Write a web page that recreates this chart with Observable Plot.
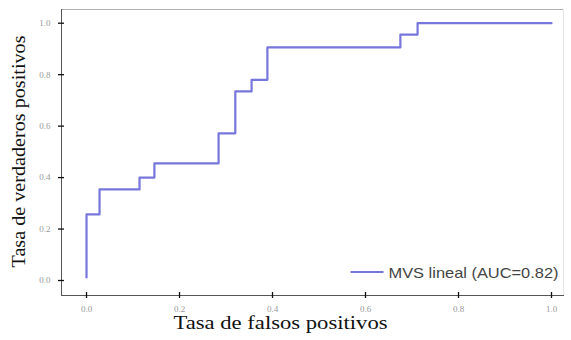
<!DOCTYPE html>
<html><head><meta charset="utf-8">
<script src="https://cdn.jsdelivr.net/npm/d3@7"></script>
<script src="https://cdn.jsdelivr.net/npm/@observablehq/plot@0.6"></script>
<style>body{margin:0;background:#fff}</style>
</head><body><div id="chart"></div>
<script>
// ROC curve corner points
const fpr = [0, 0, 0.028, 0.028, 0.114, 0.114, 0.146, 0.146, 0.284, 0.284, 0.32, 0.32, 0.355, 0.355, 0.389, 0.389, 0.675, 0.675, 0.712, 0.712, 1.0];
const tpr = [0.012, 0.257, 0.257, 0.354, 0.354, 0.40, 0.40, 0.455, 0.455, 0.572, 0.572, 0.735, 0.735, 0.78, 0.78, 0.906, 0.906, 0.956, 0.956, 1.0, 1.0];
const xTicks = [0, 0.2, 0.4, 0.6, 0.8, 1.0];
const yTicks = [0, 0.2, 0.4, 0.6, 0.8, 1.0];
const seriesName = "MVS lineal (AUC=0.82)";
const xLabel = "Tasa de falsos positivos";
const yLabel = "Tasa de verdaderos positivos";
const lineColor = "#7676dc";

const roc = fpr.map((x, i) => ({x, y: tpr[i]}));
const serif = "'Liberation Serif', 'Times New Roman', serif";

const chart = Plot.plot({
  width: 571, height: 340,
  marginLeft: 61, marginRight: 8, marginTop: 9, marginBottom: 45,
  style: {background: "#fff"},
  x: {domain: [-0.0538, 1.0258], axis: null},
  y: {domain: [-0.0583, 1.0533], axis: null},
  marks: [
    Plot.frame({anchor: "top", stroke: "#b0b0b0", strokeOpacity: 1}),
    Plot.frame({anchor: "right", stroke: "#e6e6e6", strokeOpacity: 1}),
    Plot.frame({anchor: "bottom", stroke: "#555", strokeOpacity: 1}),
    Plot.frame({anchor: "left", stroke: "#555", strokeOpacity: 1}),
    Plot.axisX(xTicks, {anchor: "bottom", tickSize: 6, dy: -3, tickPadding: 7, tickFormat: d3.format(".1f"),
      fontFamily: serif, fontSize: 9, stroke: "#111", strokeOpacity: 1, strokeWidth: 1.3, fill: "#999", label: null}),
    Plot.axisY(yTicks, {anchor: "left", tickSize: 6, dx: 3, tickPadding: 8, tickFormat: d3.format(".1f"),
      fontFamily: serif, fontSize: 9, stroke: "#111", strokeOpacity: 1, strokeWidth: 1.3, fill: "#999", label: null}),
    Plot.line(roc, {x: "x", y: "y", stroke: lineColor, strokeWidth: 2.2}),
    Plot.text([xLabel], {frameAnchor: "bottom", textAnchor: "middle", dx: -32, dy: 33.9, fontFamily: serif, fontSize: 19, fill: "#111"}),
    Plot.text([yLabel], {frameAnchor: "left", textAnchor: "middle", rotate: -90, dx: -42.1, dy: -1, fontFamily: serif, fontSize: 19, fill: "#111"}),
    Plot.text([seriesName], {frameAnchor: "bottom-right", textAnchor: "end", dx: -5, dy: -18,
      fontFamily: "'Liberation Sans', Arial, sans-serif", fontSize: 15, fill: "#444"})
  ]
});
document.getElementById("chart").appendChild(chart);

const svg = d3.select(chart.tagName.toLowerCase() === "svg" ? chart : chart.querySelector("svg"));
const fitLength = {[xLabel]: 214, [yLabel]: 232, [seriesName]: 170};
svg.selectAll("text").filter(function() { return this.textContent in fitLength; }).each(function() {
  d3.select(this).attr("textLength", fitLength[this.textContent]).attr("lengthAdjust", "spacingAndGlyphs");
});
// legend swatch placed to the left of the legend label
svg.selectAll("text").filter(function() { return this.textContent === seriesName; }).each(function() {
  const b = this.getBBox();
  const m = this.getCTM();
  const x0 = b.x * m.a + m.e, yc = (b.y + b.height / 2) * m.d + m.f;
  svg.append("line").attr("x1", x0 - 38).attr("x2", x0 - 5).attr("y1", yc).attr("y2", yc)
    .attr("stroke", lineColor).attr("stroke-width", 2.2);
});
</script>
</body></html>
